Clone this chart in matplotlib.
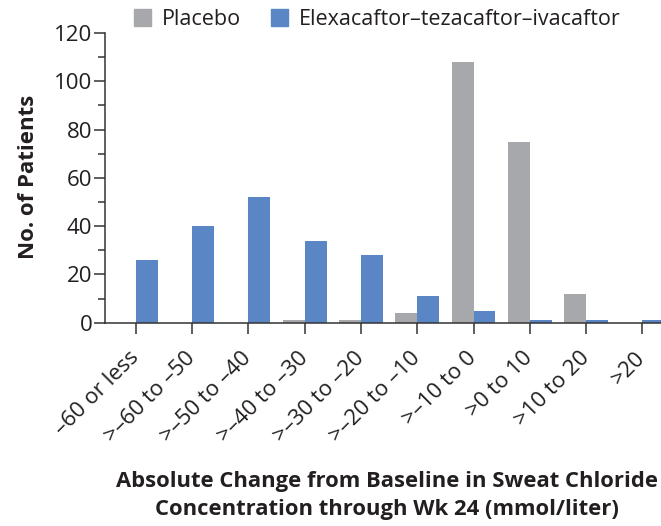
import matplotlib
matplotlib.use('Agg')
import matplotlib.pyplot as plt
from matplotlib.patches import Patch
from matplotlib.transforms import ScaledTranslation
import numpy as np

# data
categories = ['–60 or less', '>–60 to –50', '>–50 to –40', '>–40 to –30', '>–30 to –20',
              '>–20 to –10', '>–10 to 0', '>0 to 10', '>10 to 20', '>20']
placebo = [0, 0, 0, 1, 1, 4, 108, 75, 12, 0]
eti = [26, 40, 52, 34, 28, 11, 5, 1, 1, 1]

gray = '#A7A8AC'
blue = '#5B86C5'
txt = '#231F20'

plt.rcParams['font.family'] = ['Open Sans', 'DejaVu Sans']

fig = plt.figure(figsize=(6.61, 5.26), dpi=100)
ax = fig.add_axes([0.1596, 0.3865, 1.0 - 0.1596, 0.9373 - 0.3865])

x = np.arange(len(categories))
w = 0.39
ax.bar(x, placebo, width=-w, align='edge', color=gray)
ax.bar(x, eti, width=w, align='edge', color=blue)

ax.set_xlim(-0.536, 9.33)
ax.set_ylim(0, 120)
ax.set_yticks(range(0, 121, 20))
ax.set_yticks(range(10, 120, 20), minor=True)
ax.set_xticks(x)
ax.set_xticklabels(categories, rotation=45, ha='right', va='center', rotation_mode='anchor',
                   fontsize=16, color=txt)
# labels sit a little right of the tick
shift = ScaledTranslation(6 / 100, 0, fig.dpi_scale_trans)
for lab in ax.get_xticklabels():
    lab.set_transform(lab.get_transform() + shift)
for lab in ax.get_yticklabels():
    lab.set_fontsize(16)
    lab.set_color(txt)

for s in ['top', 'right']:
    ax.spines[s].set_visible(False)
for s in ['left', 'bottom']:
    ax.spines[s].set_linewidth(1.1)
    ax.spines[s].set_color('#333333')
ax.tick_params(axis='y', which='major', length=8, width=1.1, color='#333333', pad=1.5)
ax.tick_params(axis='y', which='minor', length=4.7, width=1.1, color='#333333')
ax.tick_params(axis='x', length=8, width=1.1, color='#333333', pad=15)

fig.text(29 / 661, 1 - 177 / 526, 'No. of Patients', rotation=90, ha='center', va='center',
         fontsize=16, fontweight='bold', color=txt)
fig.text(387 / 661, 1 - 487 / 526, 'Absolute Change from Baseline in Sweat Chloride',
         ha='center', va='baseline', fontsize=15.8, fontweight='bold', color=txt)
fig.text(387 / 661, 1 - 515 / 526, 'Concentration through Wk 24 (mmol/liter)',
         ha='center', va='baseline', fontsize=15.8, fontweight='bold', color=txt)

handles = [Patch(color=gray, label='Placebo'),
           Patch(color=blue, label='Elexacaftor–tezacaftor–ivacaftor')]
fig.legend(handles=handles, loc='upper left', bbox_to_anchor=(134 / 661, 1 - 9 / 526),
           ncol=2, frameon=False, fontsize=15.5, handlelength=0.8, handleheight=0.8,
           handletextpad=0.5, columnspacing=1.4, borderpad=0, borderaxespad=0,
           labelcolor=txt)

plt.savefig('out.png', dpi=100)
